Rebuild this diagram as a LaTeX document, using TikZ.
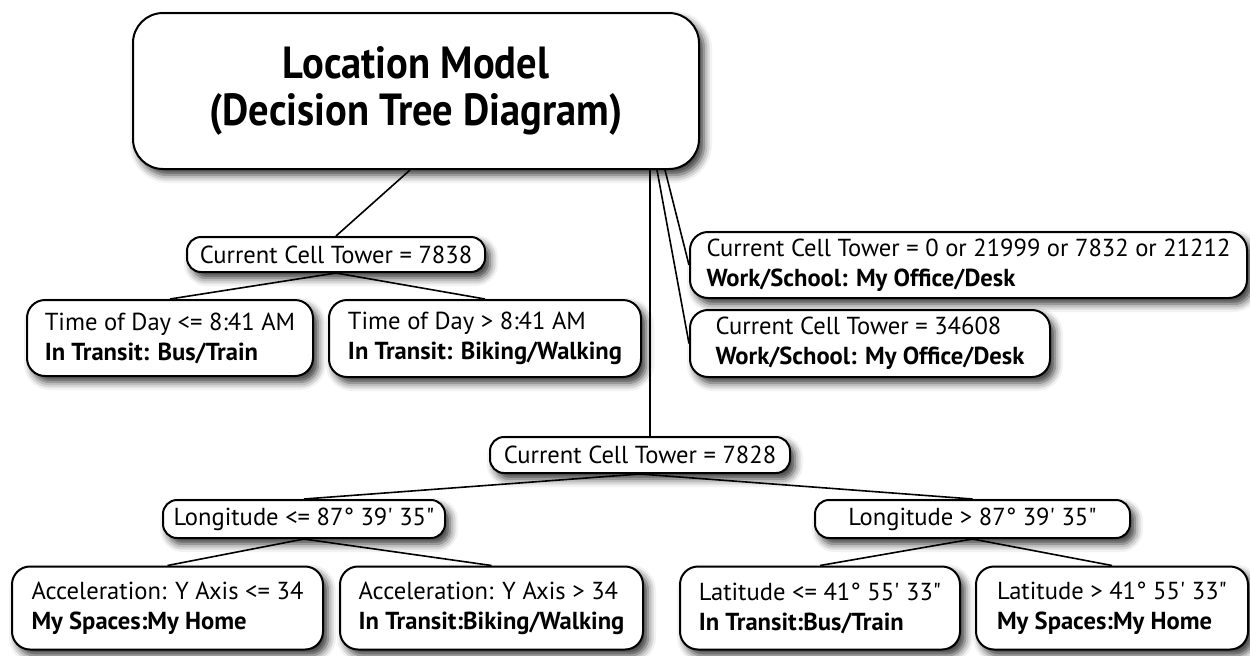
\documentclass[tikz,border=0pt]{standalone}
\usepackage{fontspec}
\setmainfont{PT Sans}
\newfontfamily\titlefont[FakeStretch=0.9]{PT Sans}
\usetikzlibrary{shadows.blur}
\pgfdeclarelayer{bg}
\pgfsetlayers{bg,main}
\newcommand{\sq}{\textquotesingle}
\newcommand{\dq}{\textquotedbl}
\tikzset{
  x=0.5pt, y=-0.5pt,
  box/.style={draw, line width=1pt, fill=white, rounded corners=7pt, inner sep=0pt,
    align=left, font=\fontsize{12.3}{15}\selectfont,
    blur shadow={shadow xshift=2.5pt, shadow yshift=-3pt, shadow blur radius=4pt, shadow opacity=80}},
  tallbox/.style={box, rounded corners=9pt},
  conn/.style={line width=0.8pt, black}
}
\begin{document}
\begin{tikzpicture}
\useasboundingbox (0,0) rectangle (1250,655);
\node[box, rounded corners=15pt, align=center, font=\titlefont\fontsize{22.5}{23.5}\selectfont\bfseries,
      minimum width=283pt, minimum height=78pt] (root) at (416,91)
      {Location Model\\(Decision Tree Diagram)};
\node[box, minimum width=149pt, minimum height=17.5pt] (c7838) at (336,254.5) {Current Cell Tower = 7838};
\node[tallbox, minimum width=143pt, minimum height=38pt] (t1) at (170,338)
      {Time of Day <= 8:41 AM\\\textbf{In Transit: Bus/Train}};
\node[tallbox, minimum width=156pt, minimum height=38.5pt] (t2) at (485,338.5)
      {Time of Day > 8:41 AM\\\textbf{In Transit: Biking/Walking}};
\node[tallbox, minimum width=278.5pt, minimum height=33pt] (ws1) at (968.5,265)
      {Current Cell Tower = 0 or 21999 or 7832 or 21212\\\textbf{Work/School: My Office/Desk}};
\node[tallbox, minimum width=180pt, minimum height=33.5pt] (ws2) at (870,343.5)
      {Current Cell Tower = 34608\\\textbf{Work/School: My Office/Desk}};
\node[box, minimum width=150pt, minimum height=18pt] (c7828) at (640,455) {Current Cell Tower = 7828};
\node[box, minimum width=141pt, minimum height=19pt] (lo1) at (304,519) {Longitude <= 87° 39\sq{} 35\dq};
\node[box, minimum width=157.5pt, minimum height=19pt] (lo2) at (972.5,519) {Longitude > 87° 39\sq{} 35\dq};
\node[tallbox, minimum width=155.5pt, minimum height=41.5pt] (a1) at (167.5,608)
      {Acceleration: Y Axis <= 34\\\textbf{My Spaces:My Home}};
\node[tallbox, minimum width=151.5pt, minimum height=41.5pt] (a2) at (491.5,608)
      {Acceleration: Y Axis > 34\\\textbf{In Transit:Biking/Walking}};
\node[tallbox, minimum width=140pt, minimum height=41.5pt] (l1) at (820,608)
      {Latitude <= 41° 55\sq{} 33\dq\\\textbf{In Transit:Bus/Train}};
\node[tallbox, minimum width=136pt, minimum height=41.5pt] (l2) at (1112,608)
      {Latitude > 41° 55\sq{} 33\dq\\\textbf{My Spaces:My Home}};
\begin{pgfonlayer}{bg}
\draw[conn] ([xshift=-3pt]root.south) -- (c7838.north);
\draw[conn] (c7838.south) -- (t1.north);
\draw[conn] (c7838.south) -- (t2.north);
\draw[conn] ([xshift=5pt]c7828.north) -- ([xshift=5pt]c7828.north |- root.south);
\draw[conn] ([xshift=-21.5pt]root.south east) -- (ws2.west);
\draw[conn] ([xshift=-17.5pt]root.south east) -- (ws1.west);
\draw[conn] (c7828.south) -- (lo1.north);
\draw[conn] (c7828.south) -- (lo2.north);
\draw[conn] (lo1.south) -- (a1.north);
\draw[conn] (lo1.south) -- (a2.north);
\draw[conn] (lo2.south) -- (l1.north);
\draw[conn] (lo2.south) -- (l2.north);
\end{pgfonlayer}
\end{tikzpicture}
\end{document}
